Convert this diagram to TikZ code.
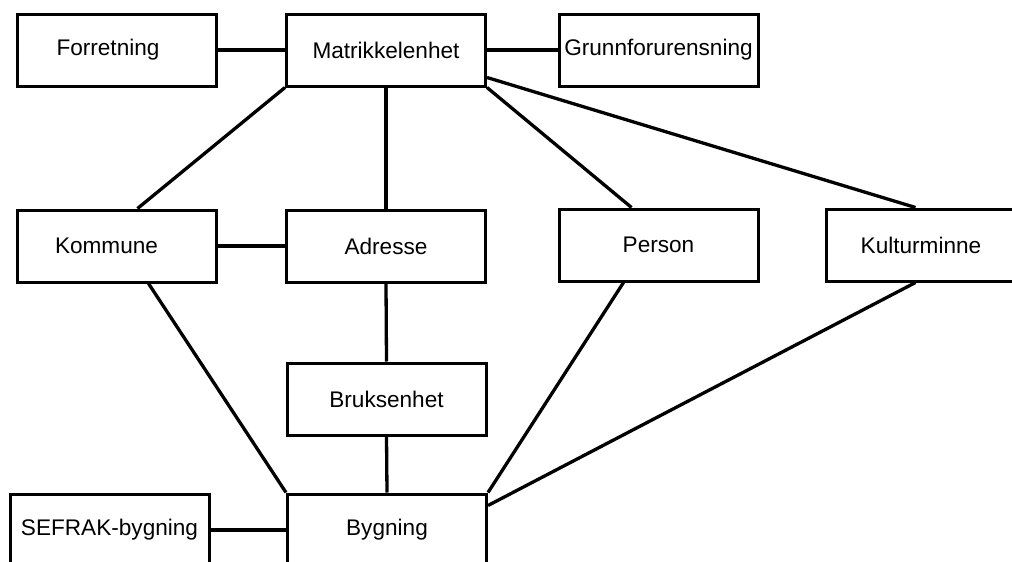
\documentclass[tikz,border=0pt]{standalone}
\usepackage{fontspec}
\setmainfont{Liberation Sans}
\begin{document}
\begin{tikzpicture}[x=1pt,y=-1pt,
  ent/.style={draw=black,line width=3pt,minimum width=199pt,minimum height=72pt,inner sep=0pt,fill=white,
    font=\fontsize{22.6pt}{26pt}\selectfont},
  conn/.style={line width=3.3pt,line cap=butt}]
\clip (0,0) rectangle (1012,562);
\fill[white] (0,0) rectangle (1012,562);
% nodes (centers in px)
\node[ent] (for) at (116.5,50) {\hspace*{-17pt}Forretning};
\node[ent] (mat) at (386,50) {Matrikkelenhet};
\node[ent] (gru) at (658.5,50) {Grunnforurensning};
\node[ent] (kom) at (116.5,246) {\hspace*{-20pt}Kommune};
\node[ent] (adr) at (386,246) {Adresse};
\node[ent] (per) at (658.5,245) {Person};
\node[ent] (kul) at (925.5,245) {\hspace*{-9pt}Kulturminne};
\node[ent] (bru) at (386.5,399) {Bruksenhet};
\node[ent] (sef) at (109.5,530) {SEFRAK-bygning};
\node[ent] (byg) at (387,530) {Bygning};
% connectors
\draw[conn] (for.east) -- (mat.west);
\draw[conn] (mat.east) -- (gru.west);
\draw[conn] (mat.south west) -- ([xshift=122pt]kom.north west);
\draw[conn] (mat.south) -- (adr.north);
\draw[conn] (mat.south east) -- ([xshift=74pt]per.north west);
\draw[conn] ([yshift=10pt]mat.south east) -- ([xshift=91pt]kul.north west);
\draw[conn] (kom.east) -- (adr.west);
\draw[conn] ([xshift=133pt]kom.south west) -- (byg.north west);
\draw[conn] (adr.south) -- (bru.north);
\draw[conn] (bru.south) -- (byg.north);
\draw[conn] ([xshift=66pt]per.south west) -- (byg.north east);
\draw[conn] ([xshift=91pt]kul.south west) -- ([yshift=-13pt]byg.north east);
\draw[conn] (sef.east) -- (byg.west);
\end{tikzpicture}
\end{document}
